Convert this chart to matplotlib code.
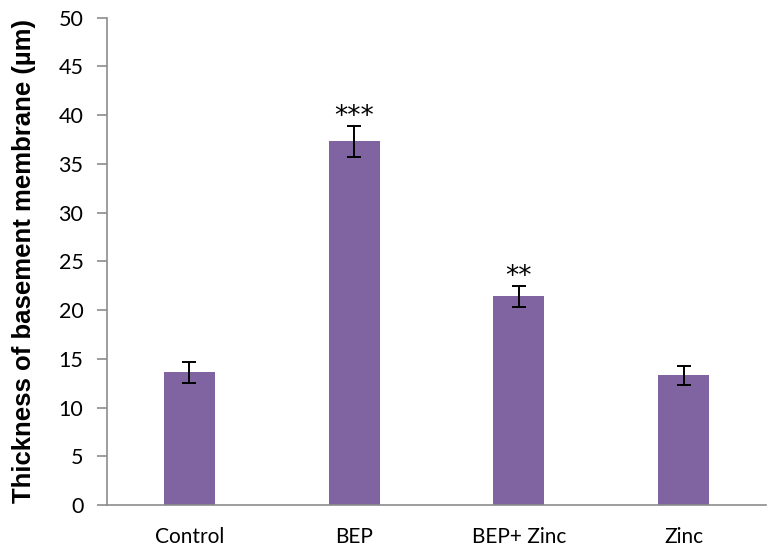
import matplotlib
matplotlib.use("Agg")
import matplotlib.pyplot as plt

categories = ["Control", "BEP", "BEP+ Zinc", "Zinc"]
means = [13.6, 37.3, 21.4, 13.3]
errors = [1.1, 1.55, 1.05, 0.95]
stars = ["", "***", "**", ""]
yticks = [0, 5, 10, 15, 20, 25, 30, 35, 40, 45, 50]

fig = plt.figure(figsize=(7.71, 5.57), dpi=100)
ax = fig.add_axes([0.1388, 0.0934, 0.8547, 0.8748])

x = list(range(len(categories)))
ax.bar(x, means, width=0.31, color="#8064A2", zorder=2)
ax.errorbar(x, means, yerr=errors, fmt="none", ecolor="black", elinewidth=1.4,
            capsize=5, capthick=1.4, zorder=3)
for xi, m, e, s in zip(x, means, errors, stars):
    if s:
        ax.text(xi, m + e - 0.35, s, ha="center", va="bottom", fontsize=19,
                family="DejaVu Sans")

ax.set_xlim(-0.5, 3.5)
ax.set_ylim(0, 50)
ax.set_yticks(yticks)
ax.set_xticks(x)
ax.set_xticklabels(categories, family="Lato", fontsize=15)
ax.set_yticklabels([str(t) for t in yticks], family="Lato", fontsize=15.5)
for sp in ["top", "right"]:
    ax.spines[sp].set_visible(False)
for sp in ["left", "bottom"]:
    ax.spines[sp].set_color("#8c8c8c")
    ax.spines[sp].set_linewidth(1.2)
ax.tick_params(axis="y", length=7, width=1.2, color="#8c8c8c", pad=10)
ax.tick_params(axis="x", length=0, pad=16)
ax.set_ylabel("Thickness of basement membrane (µm)", family="Liberation Sans",
              fontweight="bold", fontsize=18.5, labelpad=16)
fig.savefig("out.png", dpi=100)
